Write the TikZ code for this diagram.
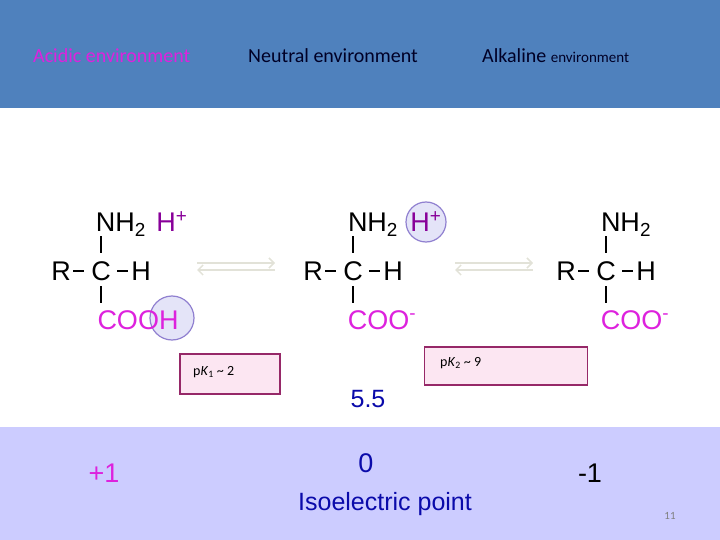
\documentclass[tikz,border=0pt]{standalone}
\usepackage{fontspec}
\setmainfont{Liberation Sans}
\newfontfamily\carlitofont{Carlito}
\usetikzlibrary{arrows.meta}
\definecolor{hdr}{HTML}{4F81BD}
\definecolor{band}{HTML}{CCCCFF}
\definecolor{mag}{HTML}{DD22DD}
\definecolor{pur}{HTML}{880099}
\definecolor{dblue}{HTML}{0A0AAA}
\definecolor{boxfill}{HTML}{FCE6F2}
\definecolor{boxline}{HTML}{962868}
\definecolor{arr}{HTML}{E2E2D8}
\definecolor{circ}{HTML}{9080D0}
\definecolor{circfill}{HTML}{E4E4F8}
\tikzset{
  chem/.style={font=\fontsize{27}{27}\selectfont, inner sep=0pt, anchor=base},
  bond/.style={line width=2.5pt, black},
  hd/.style={font=\carlitofont\fontsize{20}{20}\selectfont, inner sep=0pt, anchor=base west},
  pk/.style={draw=boxline, line width=1.5pt, fill=boxfill, minimum width=#1, minimum height=40pt, inner sep=0pt},
  pktext/.style={font=\carlitofont\fontsize{14}{14}\selectfont, anchor=base west, inner sep=0pt},
  eq/.style={arr, line width=1.5pt, -{Straight Barb[length=5pt]}},
  hcirc/.style={draw=circ, line width=1.2pt, fill=circfill, circle, minimum size=#1, inner sep=0pt}
}
\begin{document}
\begin{tikzpicture}[x=1pt,y=-1pt]
\useasboundingbox (0,0) rectangle (720,540);
\fill[hdr] (0,0) rectangle (720,108);
\fill[band] (0,427) rectangle (720,540);
\node[hd, text=mag] (ha) at (33,63) {Acidic environment};
\node[hd, text=black!85!blue] (hn) at (248,63) {Neutral environment};
\node[hd, text=black!85!blue] (hk) at (482,63) {Alkaline {\fontsize{15}{15}\selectfont environment}};
% circles first
\node[hcirc=44pt] (c1) at (172,318) {};
\node[hcirc=40pt] (c2) at (426,222) {};
% left molecule
\node[chem] (n1) at (121,232) {NH\textsubscript{2}};
\node[chem, text=pur] (p1) at (172,232) {H\textsuperscript{+}};
\node[chem] (r1) at (61,280) {R};
\node[chem] (cc1) at (101,280) {C};
\node[chem] (h1) at (141,280) {H};
\node[chem, text=mag] (o1) at (138,329) {COOH};
\draw[bond] (101,236) -- (101,253);
\draw[bond] (101,286) -- (101,303);
\draw[line width=2pt] (73,271) -- (84,271) (117,271) -- (128,271);
% middle
\node[chem] (n2) at (373,232) {NH\textsubscript{2}};
\node[chem, text=pur] (p2) at (426,232) {H\textsuperscript{+}};
\node[chem] (r2) at (313,280) {R};
\node[chem] (cc2) at (353,280) {C};
\node[chem] (h2) at (393,280) {H};
\node[chem, text=mag] (o2) at (382,329) {COO\textsuperscript{-}};
\draw[bond] (353,236) -- (353,253);
\draw[bond] (353,286) -- (353,303);
\draw[line width=2pt] (325,271) -- (336,271) (369,271) -- (380,271);
% right
\node[chem] (n3) at (626,232) {NH\textsubscript{2}};
\node[chem] (r3) at (566,280) {R};
\node[chem] (cc3) at (606,280) {C};
\node[chem] (h3) at (646,280) {H};
\node[chem, text=mag] (o3) at (635,329) {COO\textsuperscript{-}};
\draw[bond] (606,236) -- (606,253);
\draw[bond] (606,286) -- (606,303);
\draw[line width=2pt] (578,271) -- (589,271) (622,271) -- (633,271);
% equilibrium arrows
\coordinate (a1s) at (197,263); \coordinate (a1e) at (275,263);
\coordinate (b1s) at (275,270); \coordinate (b1e) at (197,270);
\draw[eq] (a1s) -- (a1e); \draw[eq] (b1s) -- (b1e);
\coordinate (a2s) at (455,263); \coordinate (a2e) at (533,263);
\coordinate (b2s) at (533,270); \coordinate (b2e) at (455,270);
\draw[eq] (a2s) -- (a2e); \draw[eq] (b2s) -- (b2e);
% pK boxes
\node[pk=100pt] (k1) at (230,374) {};
\node[pktext] (k1t) at (193,375) {p\textit{K}\textsubscript{1} \textasciitilde{} 2};
\node[pk=163pt, minimum height=38pt] (k2) at (506,366) {};
\node[pktext] (k2t) at (440,366) {p\textit{K}\textsubscript{2} \textasciitilde{} 9};
% numbers
\node[chem, text=dblue, font=\fontsize{25}{25}\selectfont] (pi) at (368,407) {5.5};
\node[chem, text=mag] (q1) at (104,482) {+1};
\node[chem, text=dblue] (q0) at (366,472) {0};
\node[chem] (qm) at (590,482) {-1};
\node[chem, text=dblue, font=\fontsize{25}{25}\selectfont] (iso) at (385,510) {Isoelectric point};
\node[font=\carlitofont\fontsize{11}{11}\selectfont, text=gray, anchor=base] (pg) at (670,519) {11};
\end{tikzpicture}
\end{document}
